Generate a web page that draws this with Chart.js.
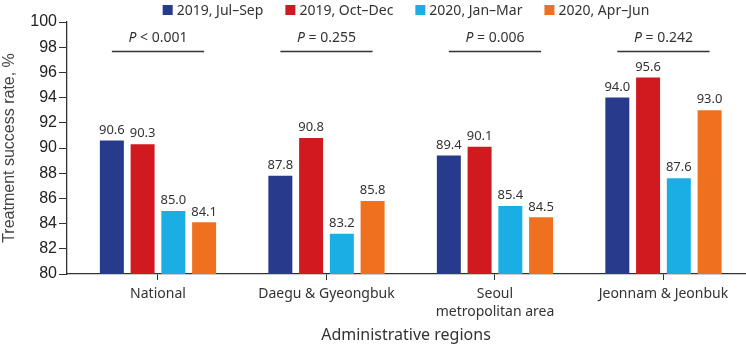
<!DOCTYPE html>
<html>
<head>
<meta charset="utf-8">
<script src="https://cdn.jsdelivr.net/npm/chart.js@4"></script>
<style>
  html, body { margin: 0; padding: 0; background: #fff; }
  #wrap { width: 746px; height: 347px; }
</style>
</head>
<body>
<div id="wrap"><canvas id="rateChart"></canvas></div>
<script>
// values
const categories = ['National', 'Daegu & Gyeongbuk', ['Seoul', 'metropolitan area'], 'Jeonnam & Jeonbuk'];
const seriesNames = ['2019, Jul\u2013Sep', '2019, Oct\u2013Dec', '2020, Jan\u2013Mar', '2020, Apr\u2013Jun'];
const jul2019 = [90.6, 87.8, 89.4, 94.0];
const oct2019 = [90.3, 90.8, 90.1, 95.6];
const jan2020 = [85.0, 83.2, 85.4, 87.6];
const apr2020 = [84.1, 85.8, 84.5, 93.0];
const pValues = ['< 0.001', '= 0.255', '= 0.006', '= 0.242'];
const yMin = 80, yMax = 100, yStep = 2;
const pLineLevel = 97.7;

const colors = ['#283a8b', '#d11920', '#1aaee5', '#ef7120'];
const textFont = '"Noto Sans", "DejaVu Sans", sans-serif';
const tickFont = '"Liberation Sans", Arial, sans-serif';

const datasets = [jul2019, oct2019, jan2020, apr2020].map((vals, i) => ({
  label: seriesNames[i],
  data: vals.map((v, j) => ({ x: j, y: v })),
  backgroundColor: colors[i],
  categoryPercentage: 0.73,
  barPercentage: 0.78
}));

// numbers above bars + P-value brackets
const annotate = {
  id: 'annotate',
  afterDatasetsDraw(chart) {
    const { ctx, scales: { y } } = chart;
    ctx.save();
    ctx.fillStyle = '#333';
    ctx.font = '13px ' + textFont;
    ctx.textAlign = 'center';
    ctx.textBaseline = 'bottom';
    chart.data.datasets.forEach((ds, di) => {
      chart.getDatasetMeta(di).data.forEach((bar, i) => {
        ctx.fillText(ds.data[i].y.toFixed(1), bar.x, bar.y - 4);
      });
    });

    const first = chart.getDatasetMeta(0).data;
    const last = chart.getDatasetMeta(chart.data.datasets.length - 1).data;
    const lineY = Math.round(y.getPixelForValue(pLineLevel)) + 0.5;
    ctx.strokeStyle = '#333';
    ctx.lineWidth = 1.3;
    ctx.textAlign = 'left';
    pValues.forEach((p, i) => {
      const x0 = first[i].x, x1 = last[i].x;
      ctx.beginPath();
      ctx.moveTo(x0, lineY);
      ctx.lineTo(x1, lineY);
      ctx.stroke();
      ctx.font = 'italic 14px ' + textFont;
      const wP = ctx.measureText('P').width;
      ctx.font = '14px ' + textFont;
      const rest = ' ' + p;
      const wR = ctx.measureText(rest).width;
      const sx = (x0 + x1) / 2 - (wP + wR) / 2;
      ctx.font = 'italic 14px ' + textFont;
      ctx.fillText('P', sx, lineY - 6);
      ctx.font = '14px ' + textFont;
      ctx.fillText(rest, sx + wP, lineY - 6);
    });
    ctx.restore();
  }
};

// legend row at the top, centred over the plot
const topLegend = {
  id: 'topLegend',
  afterDraw(chart) {
    const { ctx, chartArea } = chart;
    ctx.save();
    ctx.font = '14px ' + textFont;
    ctx.textBaseline = 'middle';
    const box = 10, gap = 4, spacing = 22;
    const items = chart.data.datasets.map(d => ({ text: d.label, color: d.backgroundColor, w: ctx.measureText(d.label).width }));
    const total = items.reduce((s, it) => s + box + gap + it.w, 0) + spacing * (items.length - 1);
    let x = (chartArea.left + chartArea.right) / 2 - total / 2;
    const cy = 10;
    items.forEach(it => {
      ctx.fillStyle = it.color;
      ctx.fillRect(x, cy - box / 2, box, box);
      ctx.fillStyle = '#333';
      ctx.fillText(it.text, x + box + gap, cy + 1);
      x += box + gap + it.w + spacing;
    });
    ctx.restore();
  }
};

new Chart(document.getElementById('rateChart'), {
  type: 'bar',
  data: { datasets: datasets },
  options: {
    responsive: true,
    maintainAspectRatio: false,
    animation: false,
    layout: { padding: { top: 22, right: 1, left: 0, bottom: 0 } },
    plugins: {
      legend: { display: false },
      tooltip: { enabled: false }
    },
    scales: {
      x: {
        type: 'linear',
        min: -0.54,
        max: 3.484,
        offset: false,
        grid: { offset: false, drawOnChartArea: false, drawTicks: true, tickLength: 6, color: '#333' },
        border: { color: '#333', width: 1.3 },
        afterBuildTicks: scale => { scale.ticks = categories.map((c, i) => ({ value: i })); },
        afterFit: scale => { scale.height = 73; },
        ticks: {
          autoSkip: false,
          maxRotation: 0,
          padding: 5,
          color: '#333',
          font: { family: textFont, size: 14, lineHeight: 1.3 },
          callback: value => categories[value]
        },
        title: {
          display: true,
          text: 'Administrative regions',
          color: '#333',
          font: { family: textFont, size: 16 },
          padding: { top: 0, bottom: 2 }
        }
      },
      y: {
        min: yMin,
        max: yMax,
        grid: { drawOnChartArea: false, drawTicks: true, tickLength: 8, color: '#333' },
        border: { color: '#333', width: 1.3 },
        afterFit: scale => { scale.width = 67; },
        ticks: {
          stepSize: yStep,
          padding: 2,
          color: '#222',
          font: { family: tickFont, size: 16 }
        },
        title: {
          display: true,
          text: 'Treatment success rate, %',
          color: '#444',
          font: { family: tickFont, size: 16 },
          padding: { top: 0, bottom: 0 }
        }
      }
    }
  },
  plugins: [annotate, topLegend]
});
</script>
</body>
</html>
